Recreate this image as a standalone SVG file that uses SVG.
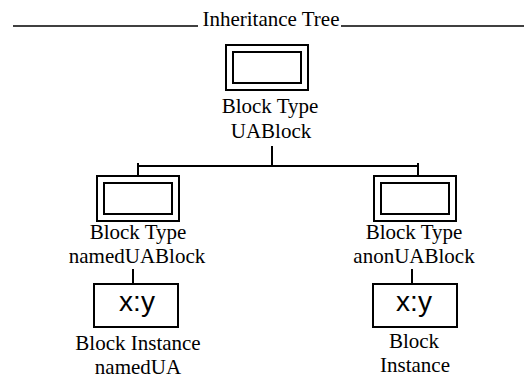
<svg xmlns="http://www.w3.org/2000/svg" width="524" height="375" viewBox="0 0 524 375">
  <style>
    .bg { fill: #ffffff; }
    .box { fill: #ffffff; stroke: #000000; stroke-width: 2; }
    .wire { fill: none; stroke: #000000; stroke-width: 2; }
    .rule { fill: none; stroke: #000000; stroke-width: 1.6; }
    .lbl { font-family: "Liberation Serif", "Times New Roman", serif; font-size: 21px; fill: #000000; text-anchor: middle; }
    .inst { font-family: "Liberation Sans", Arial, sans-serif; font-size: 28px; fill: #000000; text-anchor: middle; }
  </style>
  <defs>
    <!-- block type symbol: double-framed rectangle -->
    <g id="blockType">
      <rect class="box" x="0" y="0" width="82" height="45"/>
      <rect class="box" x="7" y="7" width="68" height="31"/>
    </g>
  </defs>

  <rect class="bg" x="0" y="0" width="524" height="375"/>

  <!-- heading -->
  <g id="title">
    <line class="rule" x1="13" y1="26" x2="198" y2="26"/>
    <line class="rule" x1="341" y1="26" x2="524" y2="26"/>
    <text class="lbl" x="271" y="26">Inheritance Tree</text>
  </g>

  <g id="connectors">
    <line class="wire" x1="272" y1="146" x2="272" y2="167"/>
    <line class="wire" x1="138" y1="166" x2="418" y2="166"/>
    <line class="wire" x1="138" y1="163" x2="138" y2="175"/>
    <line class="wire" x1="418" y1="163" x2="418" y2="175"/>
    <line class="wire" x1="133" y1="269" x2="133" y2="284"/>
    <line class="wire" x1="412" y1="269" x2="412" y2="284"/>
  </g>

  <g id="UABlock">
    <use href="#blockType" x="226" y="45"/>
    <text class="lbl" x="270" y="113">Block Type</text>
    <text class="lbl" x="271" y="138">UABlock</text>
  </g>

  <g id="namedUABlock">
    <use href="#blockType" x="97" y="176"/>
    <text class="lbl" x="138" y="239">Block Type</text>
    <text class="lbl" x="137" y="263">namedUABlock</text>
  </g>

  <g id="anonUABlock">
    <use href="#blockType" x="374" y="176"/>
    <text class="lbl" x="414" y="239">Block Type</text>
    <text class="lbl" x="414" y="263">anonUABlock</text>
  </g>

  <g id="namedUA">
    <rect class="box" x="94" y="284" width="84" height="43"/>
    <text class="inst" x="137" y="311">x:y</text>
    <text class="lbl" x="138" y="350">Block Instance</text>
    <text class="lbl" x="138" y="374">namedUA</text>
  </g>

  <g id="anonInstance">
    <rect class="box" x="373" y="284" width="84" height="43"/>
    <text class="inst" x="414" y="311">x:y</text>
    <text class="lbl" x="414" y="348">Block</text>
    <text class="lbl" x="415" y="372">Instance</text>
  </g>
</svg>
